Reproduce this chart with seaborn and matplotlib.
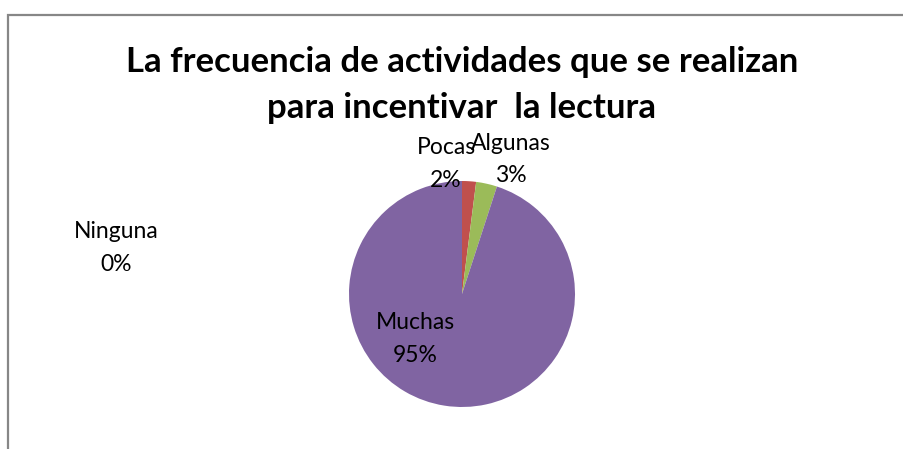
import matplotlib
matplotlib.use("Agg")
import matplotlib.pyplot as plt
from matplotlib.patches import Rectangle
import numpy as np
import seaborn as sns

categorias = ["Ninguna", "Pocas", "Algunas", "Muchas"]
porcentajes = [0, 2, 3, 95]
colores = ["#4F81BD", "#C0504D", "#9BBB59", "#8064A2"]
titulo = "La frecuencia de actividades que se realizan\npara incentivar  la lectura"

sns.set_theme(style="white")
plt.rcParams['font.family'] = ['Lato', 'DejaVu Sans']

W, H = 904, 449
fig = plt.figure(figsize=(W / 100, H / 100), dpi=100)

# marco gris (solo se ven el borde superior e izquierdo)
fig.patches.append(Rectangle((7.5 / W, -0.1), 1.2, (H - 15) / H + 0.1,
                             transform=fig.transFigure, fill=False,
                             edgecolor="#878787", linewidth=1.6))

cx, cy, r = 462, 294, 113
ax = fig.add_axes([(cx - r) / W, (H - cy - r) / H, 2 * r / W, 2 * r / H])
wedges, _ = ax.pie(porcentajes, colors=colores, startangle=90, counterclock=False,
                   radius=1, wedgeprops=dict(linewidth=0))
ax.set_xlim(-1, 1)
ax.set_ylim(-1, 1)
ax.axis("off")

# posiciones de las etiquetas (en unidades del radio)
pos_etiquetas = [(-3.06, 0.41), (-0.14, 1.15), (0.43, 1.19), (-0.41, -0.40)]
for cat, val, (x, y) in zip(categorias, porcentajes, pos_etiquetas):
    ax.text(x, y, f"{cat}\n{val}%", ha="center", va="center", fontsize=16.5,
            color="black", linespacing=1.7, clip_on=False)

fig.text(462 / W, 1 - 85 / H, titulo, ha="center", va="center", fontsize=25,
         fontweight="bold", color="black", linespacing=1.55)

fig.savefig("out.png", dpi=100)
